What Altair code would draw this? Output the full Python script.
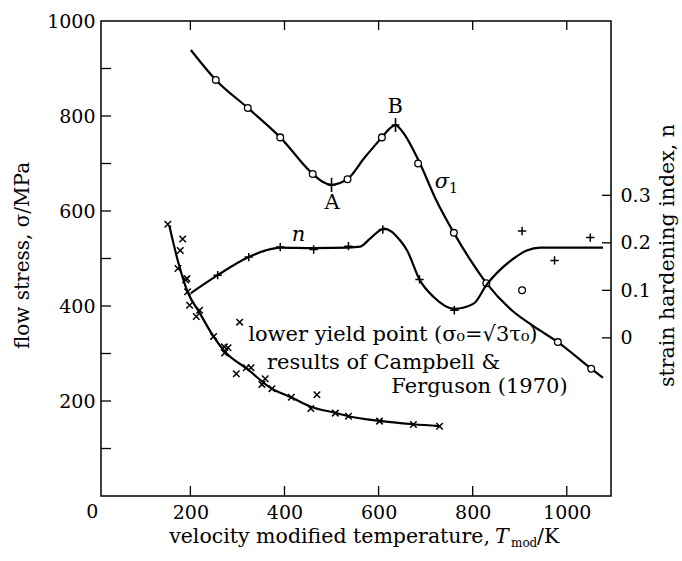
import altair as alt
import pandas as pd

FONT = "DejaVu Serif"
W, H = 510, 475

# ---- sigma_1 (upper) curve and circles ----
s1_curve_x = [201, 254, 322, 391, 460, 482, 500, 518, 534, 570, 607, 624, 636, 650, 688, 720, 760, 795, 830, 883, 930, 981, 1052, 1077]
s1_curve_y = [939, 876, 817, 755, 678, 661, 655, 659, 667, 712, 755, 774, 781, 768, 700, 628, 554, 497, 447, 391, 357, 324, 268, 249]
s1_pts_x = [254, 322, 391, 460, 534, 607, 684, 760, 829, 905, 981, 1052]
s1_pts_y = [876, 817, 755, 678, 667, 755, 700, 554, 448, 433, 324, 268]
ab_x = [500, 636]
ab_y = [655, 781]

# ---- lower yield point (Campbell & Ferguson) ----
ly_curve_x = [155, 175, 194, 220, 249, 274, 320, 373, 414, 456, 508, 536, 602, 674, 730]
ly_curve_y = [570, 489, 430, 385, 336, 303, 268, 226, 208, 188, 175, 168, 158, 151, 147]
ly_pts_x = [152, 183.5, 178.5, 173.6, 190, 192.6, 194, 198.4, 219.6, 212.5, 304.7, 249.4, 272, 280, 272.7,
            297.6, 318.8, 328.8, 352, 359, 373.4, 414.5, 469, 456, 508, 536, 602, 674, 729.6]
ly_pts_y = [572, 541, 517, 479, 455, 458, 430, 401.5, 391, 378, 366, 336, 314, 312, 301,
            257.5, 270, 270, 235, 247, 226, 208, 213, 184, 174.5, 168, 157.6, 150.7, 147]

# ---- strain hardening index n ----
n_curve_x = [201, 258, 324, 360, 391, 462, 536, 561, 582, 612, 646, 660, 688, 717, 761, 802, 829, 887, 915, 944, 1077]
n_curve_y = [0.094, 0.132, 0.170, 0.184, 0.190, 0.189, 0.190, 0.192, 0.209, 0.230, 0.205, 0.185, 0.121, 0.086, 0.061, 0.072, 0.111, 0.167, 0.184, 0.190, 0.190]
n_pts_x = [258, 324, 391, 462, 536, 609, 687, 761, 905, 974, 1050]
n_pts_y = [0.132, 0.170, 0.191, 0.186, 0.193, 0.228, 0.123, 0.058, 0.225, 0.163, 0.211]

# ---- axes ----
x_ticks = [200, 400, 600, 800, 1000]
x_zero_label = ["0"]
y_ticks = [200, 400, 600, 800, 1000]
y_minor = [100, 200, 300, 400, 500, 600, 700, 800, 900]
n_ticks = [0, 0.1, 0.2, 0.3]

# annotations (data coordinates)
ann_plain = pd.DataFrame({"x": [501, 635.5], "y": [616, 819], "t": ["A", "B"]})
ann_italic = pd.DataFrame({"x": [734.7, 430], "y": [661, 549], "t": ["σ", "n"]})
ann_sub = pd.DataFrame({"x": [759], "y": [647], "t": ["1"]})
block = pd.DataFrame({
    "x": [323, 363, 627],
    "y": [338, 281, 229],
    "t": ["lower yield point (σ₀=√3τ₀)", "results of Campbell &", "Ferguson (1970)"],
})

xscale = alt.Scale(domain=[10, 1094], nice=False, zero=False)
yscale = alt.Scale(domain=[0, 1000], nice=False, zero=False)
nscale = alt.Scale(domain=[-0.333, 0.667], nice=False, zero=False)

xaxis = alt.Axis(values=x_ticks, format="d", ticks=False, tickSize=0, domain=False, grid=False,
                 labelPadding=7, labelFontSize=19, title=None)
yaxis = alt.Axis(values=y_ticks, format="d", ticks=False, tickSize=0, domain=False, grid=False,
                 labelPadding=6, labelFontSize=19, title="flow stress, σ/MPa",
                 titleFontSize=20, titleAngle=270, titleX=-79, titleY=234,
                 titleAlign="center", titleBaseline="middle")
naxis = alt.Axis(values=n_ticks, orient="right", ticks=False, tickSize=0, domain=False, grid=False,
                 labelPadding=9, labelFontSize=19, labelAlign="left",
                 labelExpr="datum.value == 0 ? '0' : format(datum.value, '.1f')",
                 title="strain hardening index, n", titleFontSize=20.5, titleAngle=270,
                 titleX=56, titleY=234, titleAlign="center", titleBaseline="middle")


def X():
    return alt.X("x:Q", scale=xscale, axis=xaxis)


def Y():
    return alt.Y("y:Q", scale=yscale, axis=yaxis)


def N():
    return alt.Y("n:Q", scale=nscale, axis=naxis)


LW = 2.2
plus_path = "M-1,0H1M0,-1V1"
tall_plus = "M-0.55,0H0.55M0,-1V1"
x_path = "M-1,-1L1,1M-1,1L1,-1"

s1_line = alt.Chart(pd.DataFrame({"x": s1_curve_x, "y": s1_curve_y})).mark_line(
    color="black", strokeWidth=LW, interpolate="monotone").encode(x=X(), y=Y())
s1_pts = alt.Chart(pd.DataFrame({"x": s1_pts_x, "y": s1_pts_y})).mark_point(
    shape="circle", size=45, filled=True, fill="white", stroke="black", strokeWidth=1.3, opacity=1
).encode(x=X(), y=Y())
ab_pts = alt.Chart(pd.DataFrame({"x": ab_x, "y": ab_y})).mark_point(
    shape=tall_plus, size=200, filled=False, color="black", strokeWidth=1.6, opacity=1
).encode(x=X(), y=Y())

ly_line = alt.Chart(pd.DataFrame({"x": ly_curve_x, "y": ly_curve_y})).mark_line(
    color="black", strokeWidth=LW, interpolate="monotone").encode(x=X(), y=Y())
ly_pts = alt.Chart(pd.DataFrame({"x": ly_pts_x, "y": ly_pts_y})).mark_point(
    shape=x_path, size=42, filled=False, color="black", strokeWidth=1.5, opacity=1
).encode(x=X(), y=Y())

t_plain = alt.Chart(ann_plain).mark_text(font=FONT, fontSize=21, color="black", baseline="middle").encode(
    x=X(), y=Y(), text="t:N")
t_ital = alt.Chart(ann_italic).mark_text(font=FONT, fontSize=21, fontStyle="italic", color="black",
                                         baseline="middle").encode(x=X(), y=Y(), text="t:N")
t_sub = alt.Chart(ann_sub).mark_text(font=FONT, fontSize=14, color="black", baseline="middle").encode(
    x=X(), y=Y(), text="t:N")
t_block = alt.Chart(block).mark_text(font=FONT, fontSize=21, color="black", align="left",
                                     baseline="middle").encode(x=X(), y=Y(), text="t:N")

# inward ticks
yt_left = alt.Chart(pd.DataFrame({"y": y_minor})).mark_rule(color="black", strokeWidth=1.3).encode(
    y=Y(), x=alt.value(0), x2=alt.value(10))
xt_bottom = alt.Chart(pd.DataFrame({"x": x_ticks})).mark_rule(color="black", strokeWidth=1.3).encode(
    x=X(), y=alt.value(H - 10), y2=alt.value(H))
xt_top = alt.Chart(pd.DataFrame({"x": x_ticks})).mark_rule(color="black", strokeWidth=1.3).encode(
    x=X(), y=alt.value(0), y2=alt.value(9))
zero_lbl = alt.Chart(pd.DataFrame({"x": [0], "t": x_zero_label})).mark_text(
    font=FONT, fontSize=19, color="black", baseline="top", dx=-4).encode(
    x=X(), y=alt.value(H + 7), text="t:N")

# x-axis title composed from pieces
TY = 522
xt_main = alt.Chart(pd.DataFrame({"t": ["velocity modified temperature,"]})).mark_text(
    font=FONT, fontSize=20.5, color="black", align="right", baseline="alphabetic").encode(
    x=alt.value(389), y=alt.value(TY), text="t:N")
xt_T = alt.Chart(pd.DataFrame({"t": ["T"]})).mark_text(
    font=FONT, fontSize=20.5, fontStyle="italic", color="black", align="left", baseline="alphabetic").encode(
    x=alt.value(394), y=alt.value(TY), text="t:N")
xt_mod = alt.Chart(pd.DataFrame({"t": ["mod"]})).mark_text(
    font=FONT, fontSize=12, color="black", align="left", baseline="alphabetic").encode(
    x=alt.value(410), y=alt.value(TY + 4), text="t:N")
xt_K = alt.Chart(pd.DataFrame({"t": ["/K"]})).mark_text(
    font=FONT, fontSize=20.5, color="black", align="left", baseline="alphabetic").encode(
    x=alt.value(436), y=alt.value(TY), text="t:N")

sigma_group = alt.layer(
    yt_left, xt_bottom, xt_top, s1_line, s1_pts, ab_pts, ly_line, ly_pts,
    t_plain, t_ital, t_sub, t_block, zero_lbl, xt_main, xt_T, xt_mod, xt_K,
)

n_line = alt.Chart(pd.DataFrame({"x": n_curve_x, "n": n_curve_y})).mark_line(
    color="black", strokeWidth=LW, interpolate="monotone").encode(x=X(), y=N())
n_pts = alt.Chart(pd.DataFrame({"x": n_pts_x, "n": n_pts_y})).mark_point(
    shape=plus_path, size=70, filled=False, color="black", strokeWidth=1.5, opacity=1
).encode(x=X(), y=N())
nt_right = alt.Chart(pd.DataFrame({"n": n_ticks})).mark_rule(color="black", strokeWidth=1.3).encode(
    y=N(), x=alt.value(W - 9), x2=alt.value(W))

n_group = alt.layer(nt_right, n_line, n_pts)

chart = alt.layer(sigma_group, n_group).resolve_scale(y="independent").properties(
    width=W, height=H,
    autosize=alt.AutoSizeParams(type="none"),
    padding={"left": 101, "top": 21, "right": 71, "bottom": 65},
    background="white",
).configure(font=FONT).configure_view(
    stroke="black", strokeWidth=1.5
).configure_axis(
    labelFont=FONT, titleFont=FONT, labelColor="black", titleColor="black",
    titleFontWeight="normal", labelFontWeight="normal",
)

chart.save("out.html", embed_options={"renderer": "svg", "actions": False})
